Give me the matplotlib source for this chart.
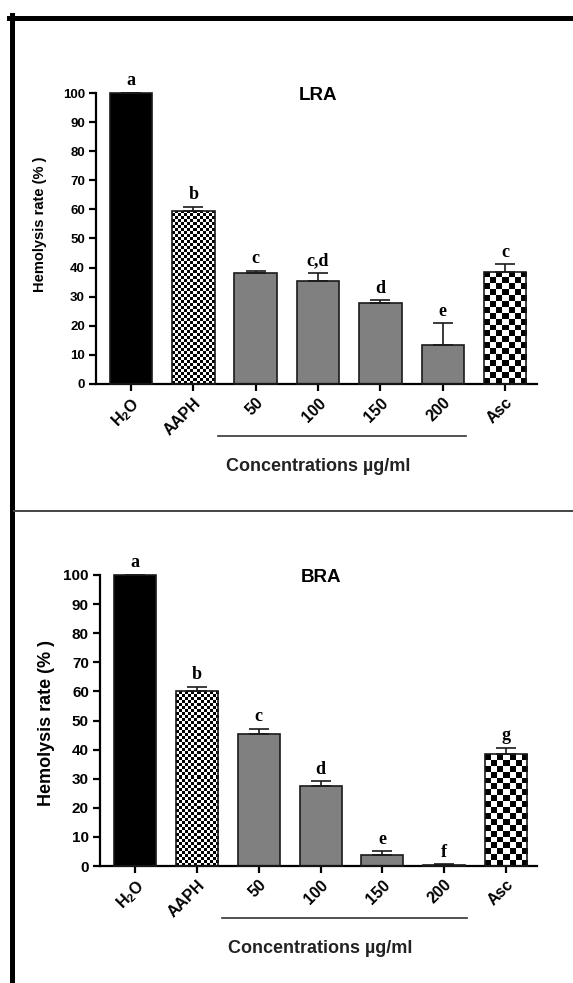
import numpy as np
import matplotlib.pyplot as plt
from matplotlib.lines import Line2D

plt.rcParams['font.family'] = ['Liberation Sans', 'DejaVu Sans']
plt.rcParams['mathtext.fontset'] = 'custom'
plt.rcParams['mathtext.rm'] = 'Liberation Sans:bold'
plt.rcParams['mathtext.bf'] = 'Liberation Sans:bold'

# data
groups = ['H$_2$O', 'AAPH', '50', '100', '150', '200', 'Asc']
fills = ['black', 'fine', 'gray', 'gray', 'gray', 'gray', 'coarse']

lra_mean = [100, 59.5, 38.2, 35.5, 27.9, 13.4, 38.6]
lra_err = [0, 1.4, 0.8, 2.7, 0.9, 7.5, 2.5]
lra_letters = ['a', 'b', 'c', 'c,d', 'd', 'e', 'c']

bra_mean = [100, 60.0, 45.3, 27.5, 3.9, 0.4, 38.4]
bra_err = [0, 1.6, 1.8, 1.6, 1.2, 0.2, 2.3]
bra_letters = ['a', 'b', 'c', 'd', 'e', 'f', 'g']

W, H = 573, 983
fig = plt.figure(figsize=(W / 100, H / 100), dpi=100)


def checker(ax, bar, cell):
    (x0, y0), (x1, y1) = ax.transData.transform(
        [(bar.get_x(), 0), (bar.get_x() + bar.get_width(), bar.get_height())])
    ncol = max(1, int(round((x1 - x0) / cell)))
    nrow = max(1, int(round((y1 - y0) / cell)))
    pat = np.indices((nrow, ncol)).sum(axis=0) % 2
    im = ax.imshow(pat, cmap='gray', origin='lower', interpolation='nearest',
                   aspect='auto', zorder=2.5,
                   extent=(bar.get_x(), bar.get_x() + bar.get_width(), 0, bar.get_height()))
    im.set_clip_path(bar)


def panel(rect, means, errs, letters, title, xlim, ytick_fs, ylab_fs, ylab_pos):
    ax = fig.add_axes(rect)
    x = np.arange(len(groups))
    ax.set_xlim(*xlim)
    ax.set_ylim(0, 100)
    face = {'black': 'black', 'gray': '#808080', 'fine': 'white', 'coarse': 'white'}
    bars = ax.bar(x, means, width=0.68, color=[face[f] for f in fills],
                  edgecolor='none', zorder=2)
    for b, f in zip(bars, fills):
        if f == 'fine':
            checker(ax, b, 3)
        elif f == 'coarse':
            checker(ax, b, 6)
    ax.bar(x, means, width=0.68, facecolor='none', edgecolor='#1a1a1a',
           linewidth=1.2, zorder=3, clip_on=False)
    ax.errorbar(x, means, yerr=[np.zeros(len(x)), errs], fmt='none',
                ecolor='#1a1a1a', elinewidth=1.2, capsize=7, capthick=1.2,
                zorder=4, clip_on=False)
    for xi, m, e, t in zip(x, means, errs, letters):
        ax.text(xi, m + e + 2.6, t, ha='center', va='baseline',
                family='Liberation Serif', fontweight='bold', fontsize=13)
    ax.text(3, 99, title, ha='center', va='center', fontsize=13.5, fontweight='bold')
    ax.set_xlim(*xlim)
    ax.set_ylim(0, 100)

    for s in ['top', 'right']:
        ax.spines[s].set_visible(False)
    for s in ['left', 'bottom']:
        ax.spines[s].set_linewidth(1.6)
    ax.set_yticks(range(0, 101, 10))
    ax.set_yticklabels([str(v) for v in range(0, 101, 10)],
                       fontsize=ytick_fs, fontweight='bold')
    ax.set_xticks(x)
    ax.set_xticklabels(groups, rotation=45, ha='right', rotation_mode='anchor',
                       fontsize=11.5, fontweight='bold')
    ax.tick_params(direction='out', length=5, width=1.6, pad=3)
    ax.set_ylabel('Hemolysis rate (% )', fontsize=ylab_fs, fontweight='bold')
    ax.yaxis.set_label_coords(*ylab_pos)

    # bracket line under the concentrations
    tr = ax.get_xaxis_transform()
    ax.add_line(Line2D([1.4, 5.37], [-0.18, -0.18], transform=tr, color='#333333',
                       linewidth=1.2, clip_on=False))
    ax.text(3, -0.285, 'Concentrations µg/ml', transform=tr, ha='center',
            va='center', fontsize=13, fontweight='bold', color='#222222')
    return ax


panel([96 / W, 1 - 384 / H, 441 / W, 291 / H], lra_mean, lra_err, lra_letters,
      'LRA', (-0.56, 6.51), 9.5, 10.5, (-0.11, 0.55))
panel([100 / W, 1 - 866 / H, 437 / W, 291 / H], bra_mean, bra_err, bra_letters,
      'BRA', (-0.57, 6.5), 11, 13, (-0.103, 0.49))

# frame around the figure
fig.add_artist(Line2D([9 / W, 1], [1 - 17.5 / H] * 2, color='black', linewidth=3.6))
fig.add_artist(Line2D([11.5 / W] * 2, [0, 1 - 15 / H], color='black', linewidth=3.6))
fig.add_artist(Line2D([14 / W, 1], [1 - 511 / H] * 2, color='#444444', linewidth=1.4))

fig.savefig('out.png', dpi=100)
